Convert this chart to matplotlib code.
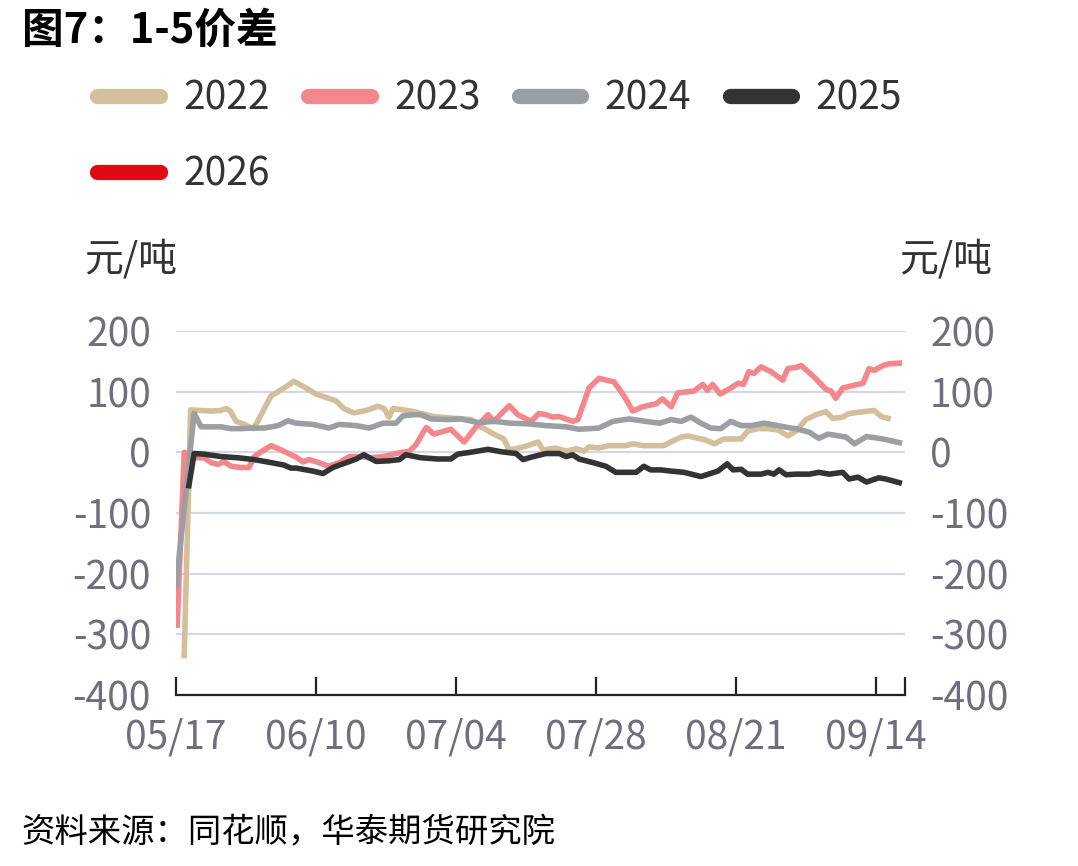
import matplotlib
matplotlib.use("Agg")
from matplotlib import pyplot as plt
from matplotlib.lines import Line2D

plt.rcParams['font.family'] = ['Noto Sans CJK SC', 'DejaVu Sans']
plt.rcParams['axes.unicode_minus'] = False

# days after 05/17 and 1-5 spread (yuan/ton)
d22 = [1.4, 2.5, 6.0, 7.7, 8.6, 9.3, 10.3, 11.5, 13.2, 14.0, 15.4, 16.3, 18.5, 20.2,
       22.3, 24.0, 27.4, 28.8, 30.5, 32.6, 34.6, 35.7, 36.5, 37.2, 38.9, 40.8, 42.0,
       44.2, 47.7, 50.6, 52.3, 54.5, 56.2, 57.1, 58.3, 60.3, 62.1, 62.9, 65.1, 66.9,
       68.6, 70.0, 70.8, 72.5, 74.2, 77.1, 78.3, 80.0, 82.3, 83.6, 85.0, 86.6, 87.8,
       89.5, 90.6, 92.3, 93.9, 96.9, 98.0, 99.7, 101.5, 103.2, 104.9, 106.3, 108.0,
       109.7, 111.4, 112.6, 114.3, 115.4, 117.8, 119.7, 120.9, 122.1]
v22 = [-335, 70, 68, 69, 72, 68, 51, 47, 39, 51, 77, 93, 106, 117,
       106, 96, 85, 72, 65, 69, 76, 72, 58, 72, 70, 67, 64,
       59, 56, 54, 42, 30, 22, 4, 6, 11, 17, 4, 7, 2,
       6, 2, 9, 7, 11, 11, 14, 11, 11, 11, 18, 25, 27,
       23, 21, 14, 22, 22, 35, 39, 39, 37, 27, 35, 54,
       62, 67, 56, 58, 64, 67, 69, 59, 56]

d23 = [0.2, 1.4, 3.4, 4.8, 6.0, 7.2, 8.2, 9.4, 11.1, 12.5, 13.4, 14.6, 16.3, 18.0,
       19.7, 20.6, 21.8, 22.8, 24.5, 26.2, 28.0, 29.7, 31.4, 33.1, 35.5, 37.7, 40.0,
       41.1, 42.5, 42.9, 44.2, 47.1, 49.4, 51.1, 53.5, 54.5, 57.1, 58.6, 60.9, 62.2,
       63.4, 64.6, 65.7, 68.0, 68.9, 70.8, 72.5, 75.1, 76.8, 78.3, 80.0, 82.3, 83.4,
       84.9, 86.0, 88.8, 90.3, 91.1, 92.0, 93.3, 95.1, 96.4, 97.3, 98.2, 99.1, 100.3,
       102.0, 104.0, 104.9, 106.3, 107.2, 109.3, 111.4, 112.3, 113.1, 114.3, 117.8,
       118.8, 119.7, 121.2, 122.3, 124.0]
v23 = [-285, 0, -9, -9, -17, -20, -15, -23, -25, -25, -7, 1, 11, 4,
       -4, -8, -16, -12, -17, -23, -17, -7, -7, -9, -7, -2, 2,
       12, 35, 41, 30, 38, 17, 38, 62, 51, 77, 62, 51, 64,
       62, 58, 59, 51, 54, 106, 122, 116, 93, 68, 75, 80, 88,
       75, 98, 101, 112, 102, 112, 96, 106, 114, 112, 133, 130, 141,
       133, 119, 138, 140, 143, 125, 104, 101, 89, 106, 114,
       138, 135, 143, 146, 147]

d24 = [0.0, 3.1, 4.3, 6.0, 7.7, 9.4, 11.1, 12.9, 15.1, 17.5, 19.2, 20.6, 23.5, 26.2,
       28.0, 30.9, 33.1, 35.5, 37.7, 38.9, 40.6, 42.0, 43.7, 46.6, 48.9, 51.8, 54.5,
       57.4, 60.3, 63.4, 66.9, 69.1, 72.5, 74.9, 77.7, 80.6, 82.9, 84.9, 86.6, 88.3,
       90.0, 91.7, 93.4, 95.1, 96.9, 98.6, 100.8, 103.2, 105.4, 106.3, 108.6, 110.2,
       111.8, 114.9, 116.3, 118.4, 121.2, 124.0]
v24 = [-220, 64, 42, 42, 42, 39, 39, 40, 40, 44, 52, 48, 46, 40,
       46, 44, 40, 48, 48, 60, 62, 62, 55, 54, 55, 49, 51,
       48, 47, 44, 42, 38, 40, 51, 55, 51, 48, 54, 51, 58,
       48, 40, 39, 51, 44, 44, 48, 44, 40, 39, 33, 23,
       30, 25, 14, 26, 22, 16]

d25 = [2.2, 3.1, 4.8, 7.7, 10.6, 13.4, 16.3, 18.5, 19.7, 20.6, 23.5, 25.2, 26.9, 29.2,
       30.9, 32.2, 34.3, 36.5, 38.3, 39.4, 42.0, 44.9, 47.1, 48.3, 51.1, 53.5, 55.7,
       58.3, 59.5, 60.9, 63.4, 65.7, 66.9, 68.0, 69.1, 71.5, 73.7, 75.4, 78.9, 80.2,
       81.4, 83.1, 84.9, 87.1, 90.0, 92.9, 94.5, 95.5, 96.9, 98.0, 100.3, 101.5, 102.5,
       103.4, 104.6, 106.3, 108.6, 110.2, 112.0, 114.3, 115.4, 116.9, 118.4, 120.5,
       121.7, 124.0]
v25 = [-55, -2, -3, -7, -9, -12, -17, -21, -26, -26, -31, -35, -25, -17,
       -11, -4, -15, -14, -12, -4, -9, -11, -11, -3, 1, 5, 1,
       -2, -12, -8, -2, -2, -7, -4, -11, -17, -23, -33, -33, -23,
       -29, -29, -31, -33, -40, -31, -19, -29, -28, -36, -36, -33, -36,
       -29, -37, -36, -36, -33, -36, -33, -44, -41, -49, -42,
       -44, -50]

years = ["2022", "2023", "2024", "2025", "2026"]
colors = ["#d3bf9b", "#f4878c", "#9b9ea3", "#333333", "#e00a17"]

tick_days = [0, 24, 48, 72, 96, 120, 125]
tick_labels = ["05/17", "06/10", "07/04", "07/28", "08/21", "09/14", ""]
yticks = [-400, -300, -200, -100, 0, 100, 200]

fig = plt.figure(figsize=(10.78, 8.66), dpi=100)
ax = fig.add_axes([0.1633, 0.1975, 0.6763, 0.4203])

series = [(d22, v22), (d23, v23), (d24, v24), (d25, v25)]
for (d, v), c in zip(series, colors[:4]):
    ax.plot(d, v, color=c, linewidth=4.0, solid_joinstyle="round")

ax.set_xlim(0, 125)
ax.set_ylim(-400, 200)
ax.set_yticks(yticks)
ax.set_xticks(tick_days)
ax.set_xticklabels(tick_labels)
ax.yaxis.grid(True, color="#d4d7e6", linewidth=1.6)
ax.set_axisbelow(True)
for s in ["left", "right", "top"]:
    ax.spines[s].set_visible(False)
ax.spines["bottom"].set_color("#222222")
ax.spines["bottom"].set_linewidth(1.6)
ax.tick_params(axis="x", direction="in", length=13, width=1.6, color="#222222",
               labelsize=28, labelcolor="#6e6e7e", pad=16)
ax.tick_params(axis="y", length=0, labelsize=28, labelcolor="#6e6e7e", pad=18,
               labelright=True)

# units
fig.text(0.078, 0.700, "元/吨", fontsize=28, color="#333333", va="center", ha="left")
fig.text(0.834, 0.700, "元/吨", fontsize=28, color="#333333", va="center", ha="left")

# title and source
fig.text(0.02, 0.965, "图7：1-5价差", fontsize=30, fontweight="bold", color="black",
         va="center", ha="left")
fig.text(0.02, 0.038, "资料来源：同花顺，华泰期货研究院", fontsize=24, style="italic",
         color="black", va="center", ha="left")

# legend (order arranged so columns fill like rows)
handles = [Line2D([], [], color=c, linewidth=11, solid_capstyle="round") for c in colors]
order = [0, 4, 1, 2, 3]
fig.legend([handles[i] for i in order], [years[i] for i in order], ncol=4,
           loc="upper left", bbox_to_anchor=(0.076, 0.927), frameon=False,
           fontsize=28, labelcolor="#333333", handlelength=1.6, handletextpad=0.6,
           columnspacing=1.0, labelspacing=0.92, borderaxespad=0)

fig.savefig("out.png", dpi=100)
